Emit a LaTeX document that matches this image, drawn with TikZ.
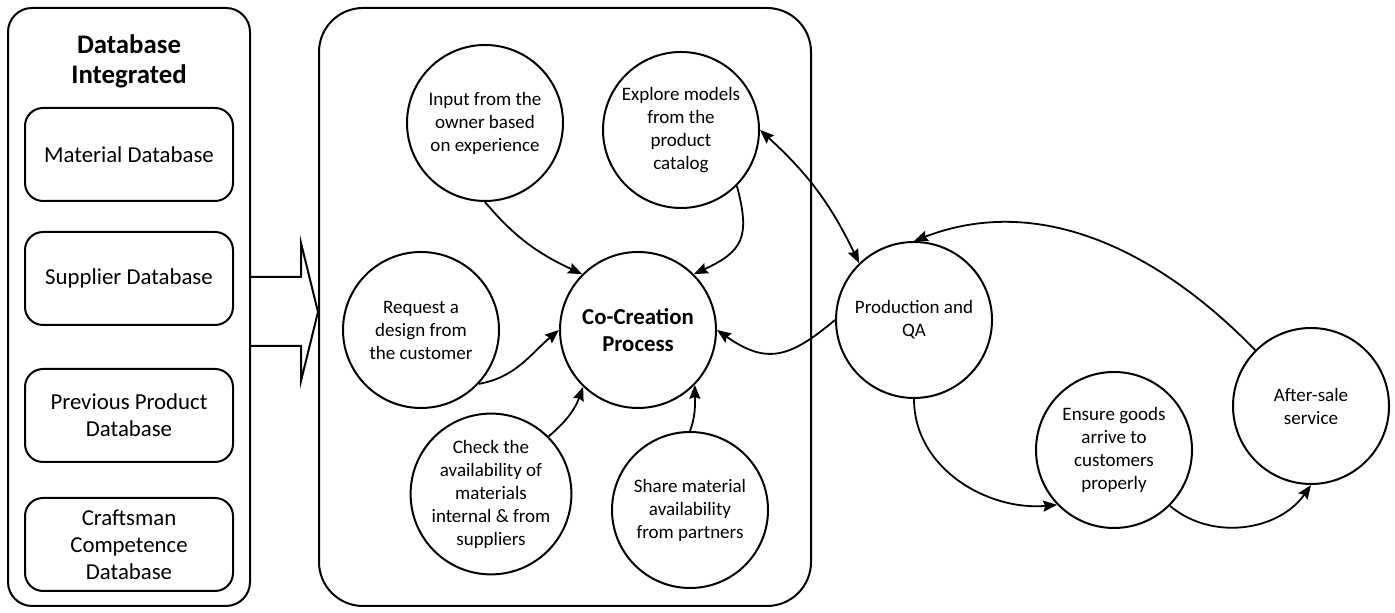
\documentclass[tikz,border=0pt]{standalone}
\usepackage{fontspec}
\setmainfont{Carlito}
\usetikzlibrary{arrows.meta, positioning}

\begin{document}
\begin{tikzpicture}[x=0.5pt, y=0.5pt,
  panel/.style={draw, line width=1pt, rounded corners=#1, minimum height=299pt, inner sep=0pt},
  db/.style={draw, line width=1pt, rounded corners=9pt, minimum width=104pt, minimum height=46.5pt,
             align=center, font=\fontsize{11.4}{13.5}\selectfont},
  bub/.style={draw, circle, line width=1pt, minimum size=78pt, inner sep=0pt, align=center,
              font=\fontsize{9.5}{11.5}\selectfont},
  arr/.style={-{Stealth[length=7pt,width=5.5pt,inset=1pt]}, line width=0.9pt}
]
  \useasboundingbox (0,0) rectangle (1395,613);

  % database column
  \node[panel=12pt, minimum width=121pt] (dbpanel) at (129,306) {};
  \node[font=\fontsize{13.4}{15}\selectfont\bfseries, align=center] (dbtitle) at (129,552) {Database\\Integrated};
  \node[db] (material) at (129,458.5) {Material Database};
  \node[db] (supplier) at (129,334.5) {Supplier Database};
  \node[db] (previous) at (129,197.5) {Previous Product\\Database};
  \node[db] (craftsman) at (129,68.5) {Craftsman\\Competence\\Database};

  \draw[line width=1pt] (249,336) -- (301,336) -- (301,370) -- (318,301) -- (301,232) -- (301,267) -- (249,267);

  % co-creation panel
  \node[panel=22pt, minimum width=246pt] (copanel) at (565,306) {};
  \node[bub] (owner) at (485,490) {Input from the\\owner based\\on experience};
  \node[bub] (catalog) at (681,483) {Explore models\\from the\\product\\catalog};
  \node[bub] (request) at (421,283) {Request a\\design from\\the customer};
  \node[bub, font=\fontsize{11.4}{13.5}\selectfont\bfseries] (cocreation) at (638,283) {Co-Creation\\Process};
  \node[bub] (check) at (491,119) {Check the\\availability of\\materials\\internal \& from\\suppliers};
  \node[bub] (share) at (690,103) {Share material\\availability\\from partners};

  % after the panel
  \node[bub] (production) at (914,293) {Production and\\QA};
  \node[bub] (delivery) at (1114,163) {Ensure goods\\arrive to\\customers\\properly};
  \node[bub] (aftersale) at (1311,207) {After-sale\\service};

  \draw[arr] (owner.-90) to[out=-50, in=155] (cocreation.135);
  \draw[arr] (catalog.-45) to[out=-75, in=25, looseness=1.4] (cocreation.45);
  \draw[arr] (request.-43) to[out=10, in=-140] (cocreation.180);
  \draw[arr] (check.45) to[out=40, in=-110] (cocreation.-134);
  \draw[arr] (share.90) to[out=70, in=-90] (cocreation.-44);
  \draw[arr] (production.180) to[out=-140, in=-35, looseness=1.3] (cocreation.0);
  \draw[arr, {Stealth[length=7pt,width=5.5pt,inset=1pt]}-{Stealth[length=7pt,width=5.5pt,inset=1pt]}] (catalog.0) to[bend left=11] (production.134);
  \draw[arr] (production.-90) to[out=-90, in=185] (delivery.-136);
  \draw[arr] (delivery.-45) to[out=-40, in=-125] (aftersale.-90);
  \draw[arr] (aftersale.135) to[out=134, in=21, out looseness=0.8, in looseness=1.07] (production.90);
\end{tikzpicture}
\end{document}
